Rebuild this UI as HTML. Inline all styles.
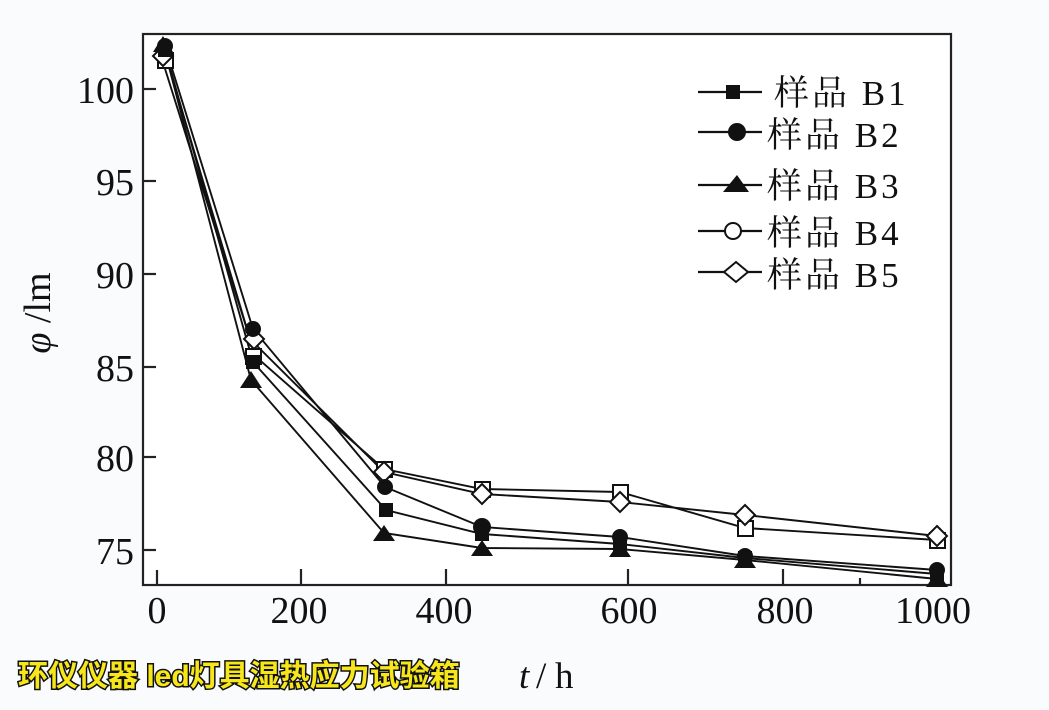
<!DOCTYPE html>
<html><head><meta charset="utf-8"><style>
html,body{margin:0;padding:0;background:#fafbfd;}
svg{display:block;}
.n{font-family:"Liberation Serif","Times New Roman",serif;font-size:38px;fill:#111;}
.lg{font-family:"Liberation Serif","Noto Serif CJK SC","Noto Sans CJK SC",serif;font-size:35px;fill:#111;letter-spacing:3px;}
.wm{font-family:"Liberation Sans","Noto Sans CJK SC",sans-serif;font-weight:bold;font-size:30px;fill:#f7e619;stroke:#111;stroke-width:3px;paint-order:stroke fill;}
</style></head><body>
<svg width="1049" height="710" viewBox="0 0 1049 710" xmlns="http://www.w3.org/2000/svg">
<rect x="0" y="0" width="1049" height="710" fill="#fafbfd"/>
<!-- frame -->
<rect x="143" y="34" width="808" height="551" fill="#fff" stroke="#222" stroke-width="2.2"/>
<!-- ticks -->
<g stroke="#222" stroke-width="2.2">
<line x1="143" y1="89" x2="156" y2="89"/>
<line x1="143" y1="181" x2="156" y2="181"/>
<line x1="143" y1="274" x2="156" y2="274"/>
<line x1="143" y1="367" x2="156" y2="367"/>
<line x1="143" y1="457" x2="156" y2="457"/>
<line x1="143" y1="550" x2="156" y2="550"/>
<line x1="157" y1="585" x2="157" y2="570"/>
<line x1="301" y1="585" x2="301" y2="569"/>
<line x1="446" y1="585" x2="446" y2="569"/>
<line x1="628" y1="585" x2="628" y2="569"/>
<line x1="783" y1="585" x2="783" y2="569"/>
<line x1="860" y1="585" x2="860" y2="578"/>
</g>
<!-- y labels -->
<g class="n" text-anchor="end">
<text x="134" y="103">100</text>
<text x="134" y="195">95</text>
<text x="134" y="288">90</text>
<text x="134" y="381">85</text>
<text x="134" y="471">80</text>
<text x="134" y="564">75</text>
</g>
<!-- x labels -->
<g class="n" text-anchor="middle">
<text x="157" y="623">0</text>
<text x="299" y="623">200</text>
<text x="444" y="623">400</text>
<text x="629" y="623">600</text>
<text x="785" y="623">800</text>
<text x="933" y="623">1000</text>
</g>
<!-- axis titles -->
<text x="519" y="688" class="n" font-style="italic" style="font-size:37px">t</text>
<text x="536" y="688" class="n" style="font-size:37px">/</text>
<text x="555" y="688" class="n" style="font-size:37px">h</text>
<text transform="translate(50,313) rotate(-90)" class="n" text-anchor="middle" style="font-size:38px"><tspan font-style="italic">φ</tspan> /lm</text>

<!-- series lines -->
<g fill="none" stroke="#111" stroke-width="1.9">
<polyline points="165,50 253,362 386,510 482,534 620,544 745,558 937,574"/>
<polyline points="165,46 253,329 385,487 482,527 620,537 745,556 937,570"/>
<polyline points="163,44 251,380 384,533 482,548 620,549 745,560 937,579"/>
<polyline points="167,60 255,356 384,469 482,489 620,492 745,528 937,540"/>
<polyline points="161,56 250,339 384,472 482,494 620,502 745,515 937,536"/>
</g>
<!-- B4 open squares -->
<g fill="#fff" stroke="#111" stroke-width="2">
<rect x="158" y="53" width="15" height="15"/>
<rect x="246" y="349" width="15" height="15"/>
<rect x="377" y="462" width="15" height="15"/>
<rect x="475" y="482" width="15" height="15"/>
<rect x="613" y="485" width="15" height="15"/>
<rect x="738" y="521" width="15" height="15"/>
<rect x="930" y="533" width="15" height="15"/>
</g>
<!-- B5 open diamonds -->
<g fill="#fff" stroke="#111" stroke-width="2">
<polygon points="163,46 173,56 163,66 153,56"/>
<polygon points="254,329 264,339 254,349 244,339"/>
<polygon points="384,462 394,472 384,482 374,472"/>
<polygon points="482,484 492,494 482,504 472,494"/>
<polygon points="620,492 630,502 620,512 610,502"/>
<polygon points="745,505 755,515 745,525 735,515"/>
<polygon points="937,526 947,536 937,546 927,536"/>
</g>
<!-- B1 filled squares -->
<g fill="#111">
<rect x="158" y="43" width="14" height="14"/>
<rect x="246" y="355" width="14" height="14"/>
<rect x="379" y="503" width="14" height="14"/>
<rect x="475" y="527" width="14" height="14"/>
<rect x="613" y="537" width="14" height="14"/>
<rect x="738" y="551" width="14" height="14"/>
<rect x="930" y="567" width="14" height="14"/>
</g>
<!-- B2 filled circles -->
<g fill="#111">
<circle cx="165" cy="46" r="8"/>
<circle cx="253" cy="329" r="8"/>
<circle cx="385" cy="487" r="8"/>
<circle cx="482" cy="527" r="9"/>
<circle cx="620" cy="537" r="8"/>
<circle cx="745" cy="556" r="8"/>
<circle cx="937" cy="570" r="8"/>
</g>
<!-- B3 filled triangles -->
<g fill="#111">
<polygon points="163,36 173,52 153,52"/>
<polygon points="251,371 262,388 240,388"/>
<polygon points="384,525 395,541 373,541"/>
<polygon points="482,540 493,556 471,556"/>
<polygon points="620,541 631,557 609,557"/>
<polygon points="745,552 756,568 734,568"/>
<polygon points="937,571 948,587 926,587"/>
</g>

<!-- legend -->
<g stroke="#111" stroke-width="2.2" fill="none">
<line x1="698" y1="92" x2="762" y2="92"/>
<line x1="698" y1="132" x2="762" y2="132"/>
<line x1="698" y1="185" x2="762" y2="185"/>
<line x1="698" y1="231" x2="762" y2="231"/>
<line x1="698" y1="272" x2="762" y2="272"/>
</g>
<rect x="726" y="85" width="14" height="14" fill="#111"/>
<circle cx="737" cy="132" r="9" fill="#111"/>
<polygon points="737,175 749,192 723,192" fill="#111"/>
<circle cx="733" cy="231" r="8" fill="#fff" stroke="#111" stroke-width="2"/>
<polygon points="736,262 748,272 736,282 724,272" fill="#fff" stroke="#111" stroke-width="2"/>
<g class="lg">
<text x="774" y="105">样品 B1</text>
<text x="767" y="147">样品 B2</text>
<text x="767" y="198">样品 B3</text>
<text x="767" y="245">样品 B4</text>
<text x="767" y="287">样品 B5</text>
</g>

<!-- watermark -->
<text x="18" y="686" class="wm">环仪仪器 led灯具湿热应力试验箱</text>
</svg>
</body></html>
